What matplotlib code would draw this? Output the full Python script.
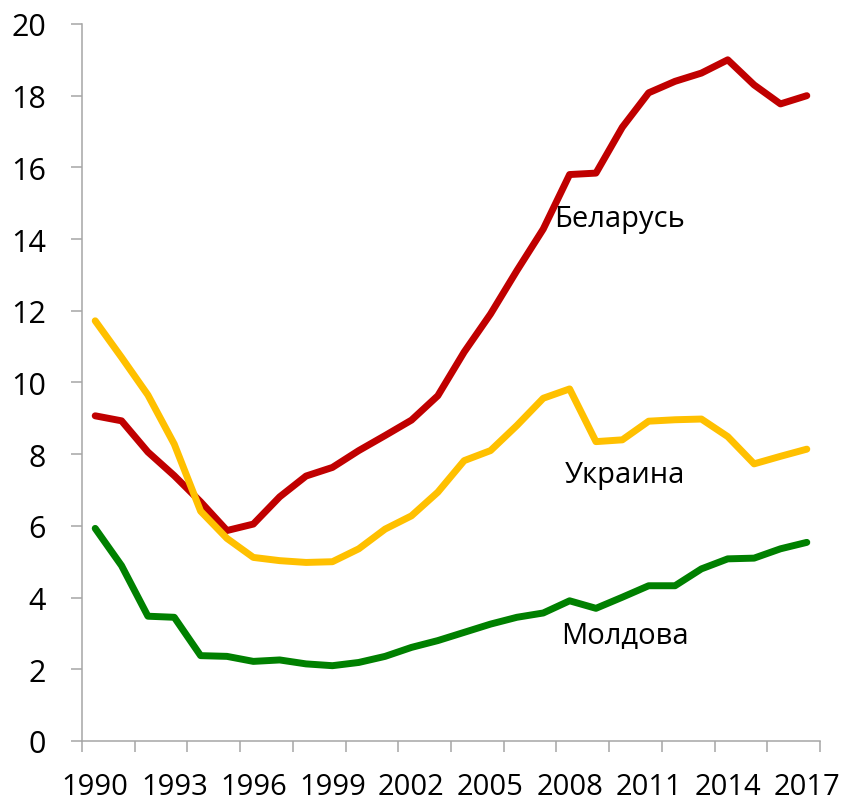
import matplotlib.pyplot as plt

plt.rcParams['font.family'] = ['Open Sans', 'DejaVu Sans']

years = list(range(1990, 2018))

# Беларусь
belarus = [9.07, 8.93, 8.06, 7.40, 6.67, 5.87, 6.05, 6.81, 7.39, 7.63,
           8.10, 8.52, 8.95, 9.63, 10.85, 11.91, 13.12, 14.28, 15.80, 15.84,
           17.12, 18.08, 18.40, 18.63, 19.00, 18.30, 17.77, 18.00]

# Украина
ukraine = [11.72, 10.70, 9.65, 8.28, 6.41, 5.65, 5.12, 5.03, 4.98, 5.00,
           5.36, 5.91, 6.28, 6.94, 7.82, 8.10, 8.80, 9.56, 9.82, 8.35,
           8.40, 8.92, 8.96, 8.98, 8.49, 7.73, 7.94, 8.14]

# Молдова
moldova = [5.93, 4.89, 3.48, 3.45, 2.38, 2.36, 2.22, 2.26, 2.15, 2.10,
           2.19, 2.36, 2.61, 2.80, 3.03, 3.26, 3.45, 3.57, 3.91, 3.70,
           4.01, 4.33, 4.33, 4.80, 5.08, 5.10, 5.36, 5.54]

label_years = list(range(1990, 2018, 3))
yticks = list(range(0, 21, 2))

fig = plt.figure(figsize=(8.43, 8.03), dpi=100)
ax = fig.add_axes([0.0973, 0.0760, 0.8754, 0.8929])

ax.plot(years, belarus, color='#C00000', lw=5, solid_capstyle='round', solid_joinstyle='round')
ax.plot(years, ukraine, color='#FFC000', lw=5, solid_capstyle='round', solid_joinstyle='round')
ax.plot(years, moldova, color='#008000', lw=5, solid_capstyle='round', solid_joinstyle='round')

ax.text(2009.9, 14.56, 'Беларусь', fontsize=21, ha='center', va='center')
ax.text(2010.1, 7.42, 'Украина', fontsize=21, ha='center', va='center')
ax.text(2010.1, 2.93, 'Молдова', fontsize=21, ha='center', va='center')

ax.set_xlim(1989.5, 2017.5)
ax.set_ylim(0, 20)

# tick marks between categories, labels every 3 years
ax.set_xticks([1989.5 + 2 * k for k in range(15)])
ax.set_xticklabels([])
ax.set_xticks(label_years, minor=True)
ax.set_xticklabels([str(y) for y in label_years], minor=True)
ax.tick_params(axis='x', which='major', length=8, width=1.1, color='#A6A6A6', direction='out')
ax.tick_params(axis='x', which='minor', length=0, pad=22, labelsize=21)

ax.set_yticks(yticks)
ax.tick_params(axis='y', length=8, width=1.1, color='#A6A6A6', direction='out', pad=18, labelsize=22)

for s in ['top', 'right']:
    ax.spines[s].set_visible(False)
for s in ['left', 'bottom']:
    ax.spines[s].set_color('#A6A6A6')
    ax.spines[s].set_linewidth(1.1)

fig.savefig('out.png', dpi=100)
